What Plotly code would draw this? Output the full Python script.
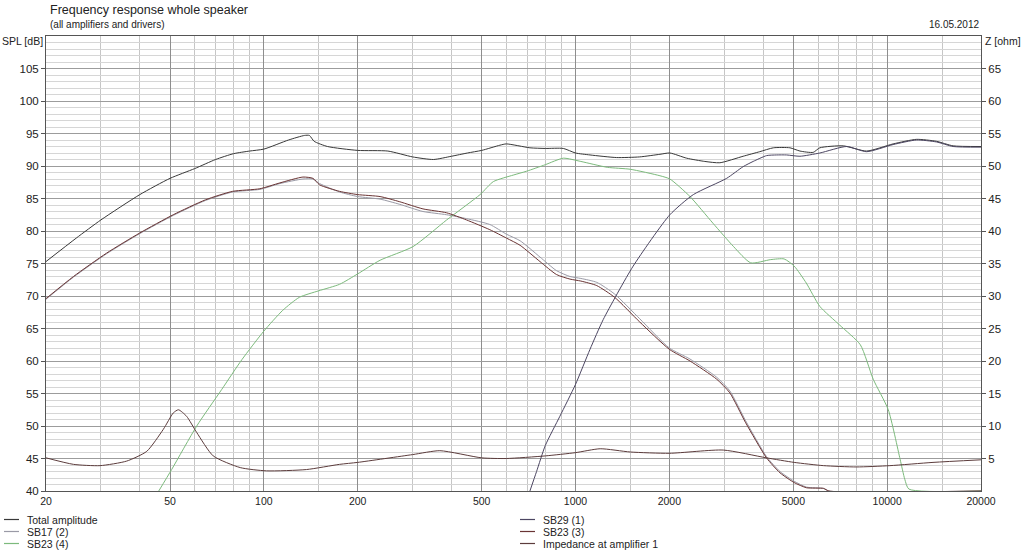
### IMPORTS
import plotly.graph_objects as go

### DATA
total_f = [20, 25, 30, 40, 50, 60, 70, 80, 90, 100, 120, 135, 140, 145, 160, 200, 250,
           300, 350, 400, 450, 500, 572, 600, 714, 800, 914, 1000, 1113, 1355, 1607, 1866,
           2008, 2274, 2600, 2905, 3450, 3900, 4315, 4875, 5250, 5790, 6080, 7230, 8590,
           10450, 12420, 14390, 16280, 20000]
total_db = [75.3, 78.9, 81.7, 85.6, 88.1, 89.6, 91.0, 91.9, 92.3, 92.6, 94.0, 94.7, 94.7, 93.8,
            93.0, 92.4, 92.3, 91.4, 91.0, 91.5, 92.0, 92.4, 93.2, 93.4, 92.8, 92.7, 92.7,
            92.0, 91.7, 91.3, 91.4, 91.8, 92.0, 91.2, 90.7, 90.5, 91.5, 92.2, 92.8, 92.8,
            92.3, 92.1, 92.8, 93.1, 92.3, 93.4, 94.1, 93.8, 93.1, 93.0]

woofer_f = [20, 24.5, 31.3, 40, 51.2, 65, 79.4, 97.1, 112.6, 133.5, 143.7, 151, 175, 200,
            236, 273, 324, 386, 447, 531, 601, 664, 769, 869, 960, 1040, 1170, 1335, 1607,
            2000, 2330, 2838, 3127, 3515, 4100, 4530, 5030, 5510, 6250, 6500, 20000]
sb17_db = [69.5, 72.9, 76.5, 79.6, 82.4, 84.7, 86.0, 86.4, 87.3, 88.0, 88.0, 87.3, 86.0,
           85.3, 84.9, 84.1, 83.0, 82.5, 81.9, 81.0, 79.5, 78.5, 76.0, 73.9, 73.0, 72.7,
           72.1, 70.3, 66.5, 62.0, 60.3, 57.5, 55.4, 50.8, 45.3, 43.0, 41.5, 40.6, 40.4,
           40.0, 40.0]
sb23_3_db = [69.6, 73.0, 76.6, 79.7, 82.5, 84.8, 86.1, 86.5, 87.4, 88.3, 88.1, 87.1, 86.1,
             85.6, 85.3, 84.5, 83.4, 82.8, 81.7, 80.2, 78.9, 77.8, 75.3, 73.3, 72.6, 72.3,
             71.6, 69.8, 66.0, 61.8, 60.0, 57.2, 55.1, 50.5, 45.1, 42.8, 41.3, 40.5, 40.4,
             40.0, 40.0]

mid_f = [46, 50.6, 60.9, 73.2, 85, 100, 115, 130, 150, 175, 200, 236, 301, 386, 494, 545,
         631, 697, 800, 914, 1040, 1264, 1498, 1866, 2008, 2330, 2760, 3215, 3650, 4230,
         4670, 5030, 5500, 6080, 7050, 8200, 9020, 10080, 11000, 11390, 11740, 20000]
sb23_4_db = [40.0, 43.3, 50.0, 55.6, 60.2, 64.6, 67.8, 69.8, 70.8, 71.8, 73.4, 75.5, 77.6,
             81.7, 85.6, 87.6, 88.6, 89.2, 90.2, 91.2, 90.7, 89.8, 89.5, 88.5, 88.0, 85.3,
             81.2, 77.6, 75.1, 75.6, 75.7, 74.6, 72.0, 68.4, 65.5, 62.5, 57.2, 52.5, 44.9,
             41.8, 40.3, 40.0]

tweeter_f = [714, 750, 800, 891, 1000, 1113, 1228, 1531, 2008, 2388, 3054, 3450, 3715, 4104,
             4420, 4757, 5250, 6080, 7410, 8590, 10450, 12420, 14390, 16280, 20000]
sb29_db = [40.0, 43.0, 47.0, 51.5, 56.4, 61.8, 66.4, 74.6, 82.5, 85.6, 88.1, 89.9, 90.7,
           91.6, 91.7, 91.7, 91.5, 92.0, 93.0, 92.2, 93.3, 94.0, 93.7, 93.0, 92.9]

imp_f = [20, 24.5, 29.8, 36.3, 42.1, 47.6, 51.2, 53.2, 56.5, 60.9, 68.8, 84, 102, 137, 175,
         200, 300, 367, 500, 600, 800, 1000, 1200, 1500, 2000, 2978, 4100, 5030, 6250,
         7960, 10200, 14030, 20000]
imp_ohm = [5.1, 4.1, 3.9, 4.6, 6.1, 9.5, 12.0, 12.5, 11.5, 9.0, 5.4, 3.6, 3.1, 3.3, 4.1,
           4.4, 5.6, 6.2, 5.1, 5.0, 5.4, 5.9, 6.5, 6.0, 5.8, 6.3, 5.1, 4.4, 3.9, 3.7, 3.9,
           4.4, 4.8]

x_ticks = [20, 50, 100, 200, 500, 1000, 2000, 5000, 10000, 20000]
x_minor = [30, 40, 60, 70, 80, 90, 150, 300, 400, 600, 700, 800, 900, 1500, 3000, 4000,
           6000, 7000, 8000, 9000, 15000]
spl_ticks = [40, 45, 50, 55, 60, 65, 70, 75, 80, 85, 90, 95, 100, 105]
z_ticks = [5, 10, 15, 20, 25, 30, 35, 40, 45, 50, 55, 60, 65]

FONT = "Liberation Sans, Arial, sans-serif"

### FIGURE
fig = go.Figure()

series = [
    ("Total amplitude", total_f, total_db, "#383838", "y"),
    ("SB17 (2)", woofer_f, sb17_db, "#9a9aa6", "y"),
    ("SB23 (4)", mid_f, sb23_4_db, "#7cba7c", "y"),
    ("SB29 (1)", tweeter_f, sb29_db, "#4c4662", "y"),
    ("SB23 (3)", woofer_f, sb23_3_db, "#6a3434", "y"),
    ("Impedance at amplifier 1", imp_f, imp_ohm, "#5c3c3c", "y2"),
]
for name, fx, fy, col, ax in series:
    fig.add_trace(go.Scatter(x=fx, y=fy, name=name, mode="lines", yaxis=ax,
                             line=dict(color=col, width=1, shape="spline", smoothing=0.6),
                             showlegend=False))

# legend drawn by hand, two columns of three rows
def px_x(p):
    return (p - 46) / 935.0

def px_y(p):
    return (491 - p) / 455.0

rows = [519.5, 531.5, 543.5]
shapes = []
annotations = []
for i, (name, fx, fy, col, ax) in enumerate(series):
    col_x = 4 if i < 3 else 520
    ry = rows[i % 3]
    shapes.append(dict(type="line", xref="paper", yref="paper",
                       x0=px_x(col_x), x1=px_x(col_x + 15), y0=px_y(ry), y1=px_y(ry),
                       line=dict(color=col, width=1.2)))
    annotations.append(dict(text=name, xref="paper", yref="paper", x=px_x(col_x + 21),
                            y=px_y(ry), xanchor="left", yanchor="middle", showarrow=False,
                            font=dict(size=10.5, color="#222")))

annotations += [
    dict(text="Frequency response whole speaker", xref="paper", yref="paper", x=px_x(48),
         y=px_y(10), xanchor="left", yanchor="middle", showarrow=False,
         font=dict(size=12.5, color="#222")),
    dict(text="(all amplifiers and drivers)", xref="paper", yref="paper", x=px_x(48),
         y=px_y(24), xanchor="left", yanchor="middle", showarrow=False,
         font=dict(size=10, color="#222")),
    dict(text="16.05.2012", xref="paper", yref="paper", x=px_x(981), y=px_y(24),
         xanchor="right", yanchor="middle", showarrow=False,
         font=dict(size=10, color="#222")),
    dict(text="SPL [dB]", xref="paper", yref="paper", x=px_x(45), y=px_y(41),
         xanchor="right", yanchor="middle", showarrow=False,
         font=dict(size=10.5, color="#222")),
    dict(text="Z [ohm]", xref="paper", yref="paper", x=px_x(983), y=px_y(41),
         xanchor="left", yanchor="middle", showarrow=False,
         font=dict(size=10.5, color="#222")),
]

fig.update_layout(
    width=1023, height=553,
    margin=dict(l=46, r=42, t=36, b=62, pad=0),
    paper_bgcolor="white", plot_bgcolor="white",
    font=dict(family=FONT, size=11, color="#222"),
    showlegend=False,
    shapes=shapes,
    annotations=annotations,
    xaxis=dict(type="log", range=[1.30103, 4.30103], tickmode="array",
               tickvals=x_ticks, ticktext=[str(v) for v in x_ticks],
               showgrid=True, gridcolor="#8e8e8e", gridwidth=1,
               minor=dict(tickmode="array", tickvals=x_minor, showgrid=True,
                          gridcolor="#c6c6c6", gridwidth=1),
               showline=True, linecolor="#555", linewidth=1, mirror=True,
               ticks="", tickfont=dict(size=10.5), zeroline=False),
    yaxis=dict(range=[40, 110], tickmode="array", tickvals=spl_ticks,
               showgrid=True, gridcolor="#9c9c9c", gridwidth=1,
               minor=dict(dtick=1, showgrid=True, gridcolor="#d6d6d6", gridwidth=1),
               showline=True, linecolor="#555", linewidth=1, mirror=True,
               ticks="outside", ticklen=4, tickcolor="#555",
               tickfont=dict(size=11.5), zeroline=False),
    yaxis2=dict(range=[0, 70], overlaying="y", side="right", tickmode="array",
                tickvals=z_ticks, showgrid=False, zeroline=False,
                showline=True, linecolor="#555", linewidth=1,
                ticks="outside", ticklen=4, tickcolor="#555",
                tickfont=dict(size=11.5)),
)

# page body has a default 8px margin; drop it so the figure sits at the window corner
fig.write_html("out.html", config={"displayModeBar": False},
               post_script="document.body.style.margin='0';document.body.style.overflow='hidden';")
